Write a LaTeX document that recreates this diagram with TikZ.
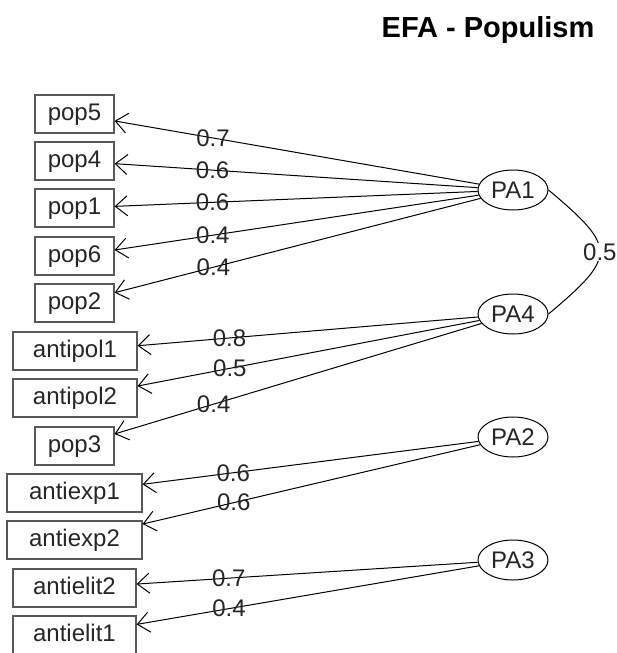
\documentclass[tikz,border=0pt]{standalone}
\usepackage{fontspec}
\setmainfont{Liberation Sans}
\usetikzlibrary{arrows.meta,shapes.geometric}

\begin{document}
\begin{tikzpicture}[x=1pt, y=1pt,
    var/.style={draw=black!65, line width=1.2pt, minimum width=79pt, minimum height=38pt, inner sep=0pt, text=black!85, font=\fontsize{24}{28}\selectfont, text height=17pt, text depth=5pt},
    fac/.style={draw, ellipse, line width=1pt, minimum width=70pt, minimum height=40pt, inner sep=0pt, text=black!85, font=\fontsize{24}{28}\selectfont},
    arr/.style={-{Straight Barb[length=12pt,width=20pt]}, line width=1pt},
    lbl/.style={pos=0.73, inner sep=0pt, text=black!85, font=\fontsize{24}{28}\selectfont}
]
\useasboundingbox (0,0) rectangle (617,-653);

\node[font=\fontsize{29}{34}\selectfont\bfseries] (title) at (488,-30) {EFA - Populism};

% observed items
\node[var] (pop5) at (74.5,-114) {pop5};
\node[var] (pop4) at (74.5,-161) {pop4};
\node[var] (pop1) at (74.5,-208) {pop1};
\node[var] (pop6) at (74.5,-256) {pop6};
\node[var] (pop2) at (74.5,-303) {pop2};
\node[var, minimum width=124pt] (antipol1) at (75,-351) {antipol1};
\node[var, minimum width=124pt] (antipol2) at (75,-398) {antipol2};
\node[var] (pop3) at (74.5,-446) {pop3};
\node[var, minimum width=135pt] (antiexp1) at (74.5,-493) {antiexp1};
\node[var, minimum width=135pt] (antiexp2) at (74.5,-540) {antiexp2};
\node[var, minimum width=123pt] (antielit2) at (74.5,-588) {antielit2};
\node[var, minimum width=123pt] (antielit1) at (74.5,-635) {antielit1};

% factors
\node[fac] (PA1) at (513,-190) {PA1};
\node[fac] (PA4) at (513,-314) {PA4};
\node[fac] (PA2) at (513,-437) {PA2};
\node[fac] (PA3) at (513,-560) {PA3};

% loadings
\draw[arr] (PA1) -- node[lbl] {0.7} (pop5);
\draw[arr] (PA1) -- node[lbl] {0.6} (pop4);
\draw[arr] (PA1) -- node[lbl] {0.6} (pop1);
\draw[arr] (PA1) -- node[lbl] {0.4} (pop6);
\draw[arr] (PA1) -- node[lbl] {0.4} (pop2);
\draw[arr] (PA4) -- node[lbl] {0.8} (antipol1);
\draw[arr] (PA4) -- node[lbl] {0.5} (antipol2);
\draw[arr] (PA4) -- node[lbl] {0.4} (pop3);
\draw[arr] (PA2) -- node[lbl] {0.6} (antiexp1);
\draw[arr] (PA2) -- node[lbl] {0.6} (antiexp2);
\draw[arr] (PA3) -- node[lbl] {0.7} (antielit2);
\draw[arr] (PA3) -- node[lbl] {0.4} (antielit1);

% factor correlation
\draw[line width=1pt] (PA1.east) to[out=-40, in=40, looseness=1.85]
    node[fill=white, inner sep=1pt, text=black!85, font=\fontsize{24}{28}\selectfont] {0.5} (PA4.east);
\end{tikzpicture}
\end{document}
